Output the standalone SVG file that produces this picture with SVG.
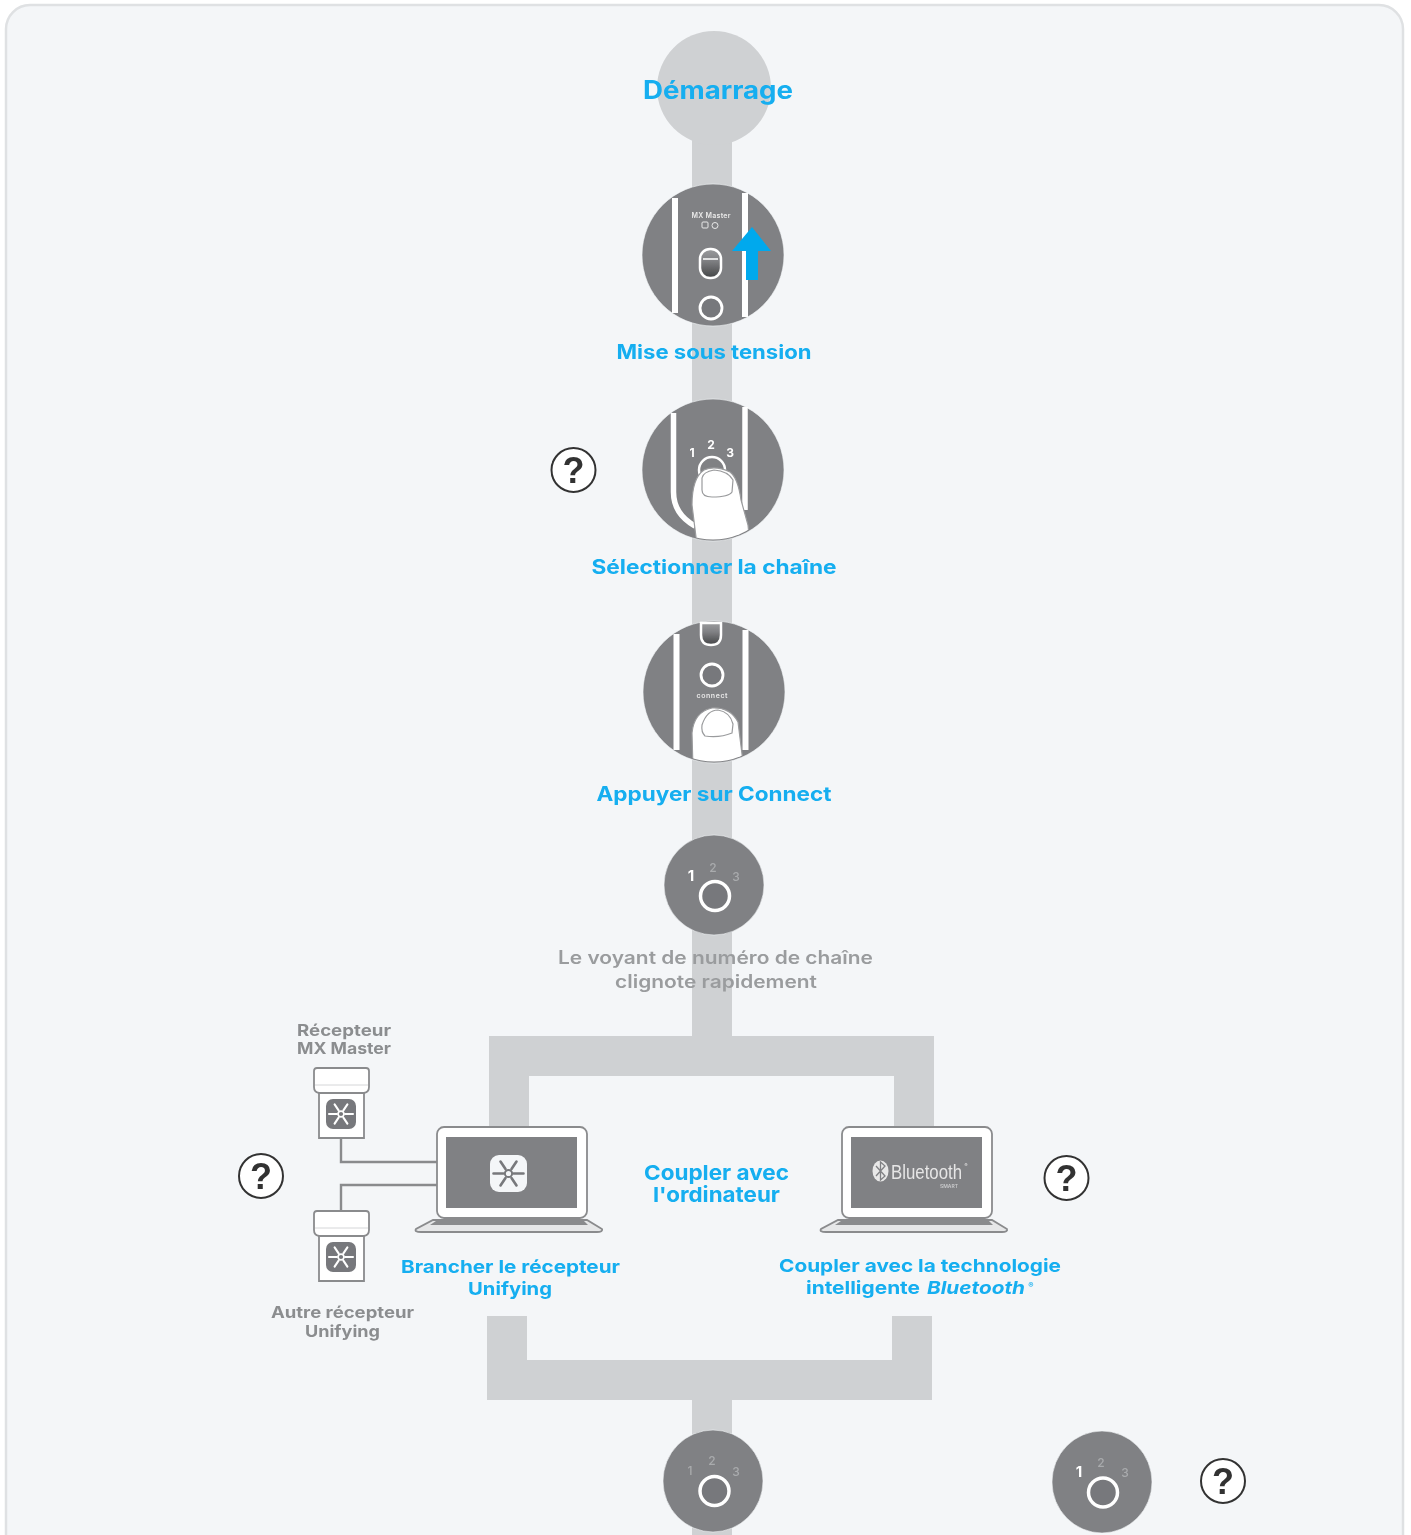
<svg xmlns="http://www.w3.org/2000/svg" xmlns:xlink="http://www.w3.org/1999/xlink" width="1411" height="1535" viewBox="0 0 1411 1535">
<style>
text{font-family:"Inter","Open Sans","Liberation Sans",sans-serif;text-anchor:middle}
.b{fill:#12aef0;font-weight:700}
.t{font-size:20px}
.g{fill:#9a9c9e;font-weight:600;font-size:18px}
.r{fill:#8b8d8f;font-weight:700;font-size:16px}
.bar{fill:#cfd1d3}
.disc{fill:#808184;stroke:#f4f6f8;stroke-width:.6}
.w{fill:none;stroke:#fff;stroke-linecap:butt}
.q{fill:#fff;stroke:#333;stroke-width:2}
.qt{font-size:36px;font-weight:700;fill:#333;font-family:"Liberation Sans",sans-serif}
.n{font-size:12px;font-weight:500;fill:#a9abad}
.n1{font-size:15px;font-weight:700;fill:#fff}
.nw{font-size:12px;font-weight:700;fill:#fff}
.mini{font-size:7px;font-weight:600;fill:#e8e8e8}
.wire{fill:none;stroke:#8a8b8d;stroke-width:2.4}
.body{fill:#fff;stroke:#8a8b8d;stroke-width:1.8}
.scr{fill:#808184}
.fin{fill:#fff;stroke:#9a9b9d;stroke-width:1.2}
</style>
<defs>
<filter id="soft" filterUnits="userSpaceOnUse" x="0" y="0" width="1411" height="1535"><feGaussianBlur stdDeviation="0.7"/></filter>
<clipPath id="c2"><circle cx="713" cy="470" r="69.500"/></clipPath>
<clipPath id="c3"><circle cx="714" cy="692" r="69.500"/></clipPath>
<linearGradient id="sw" x1="0" y1="0" x2="0" y2="1"><stop offset="0" stop-color="#9a9b9d"/><stop offset=".4" stop-color="#808184"/><stop offset="1" stop-color="#444547"/></linearGradient>
<g id="flake" fill="none" stroke-width="2.600" stroke-linecap="round">
<path d="M-15 0H-5M5 0H15M-8-12L-3-4.500M8-12L3-4.500M-8 12L-3 4.500M8 12L3 4.500"/><circle r="3.600" stroke-width="2"/>
</g>
<g id="laptop">
<path d="M18 95H172L187 104Q188 107 182 107H6Q-1 107 1 104Z" fill="#e6e7e8" stroke="#8a8b8d" stroke-width="1.800"/>
<path d="M21 96H169L173 100H15Z" fill="#8a8b8d"/>
<rect x="22" y="2" width="150" height="91" rx="7" class="body"/>
<rect x="31" y="12" width="131" height="71" class="scr"/>
</g>
<g id="dongle">
<path d="M5 24H50V70H5Z" class="body"/>
<path d="M3 0H52Q55 0 55 3V19Q55 24 50 25H5Q0 24 0 19V3Q0 0 3 0Z" class="body"/>
<path d="M1 17H54" fill="none" stroke="#d5d6d8" stroke-width="1"/>
<rect x="12" y="31" width="30" height="30" rx="7" fill="#77787b"/>
<use xlink:href="#flake" transform="translate(27 46) scale(.8)" stroke="#fff"/>
</g>
<g id="qm"><circle r="22" class="q"/><text y="13" class="qt">?</text></g>
</defs>
<rect x="6" y="5" width="1397" height="1560" rx="24" fill="#f4f6f8" stroke="#dfe1e3" stroke-width="2.500"/>
<g filter="url(#soft)">
<g id="connectors">
<rect x="692" y="130" width="40" height="910" class="bar"/>
<path d="M489 1128V1036H934V1128H894V1076H529V1128Z" class="bar"/>
<path d="M487 1316V1400H932V1316H892V1360H527V1316Z" class="bar"/>
<rect x="692" y="1400" width="40" height="135" class="bar"/>
<path d="M341 1138V1162H437" class="wire"/>
<path d="M341 1211V1185H437" class="wire"/>
</g>
<g id="start">
<ellipse cx="714" cy="88" rx="57" ry="57" fill="#cfd1d3"/>
<text x="718" y="99" class="b" font-size="25" textLength="150" lengthAdjust="spacingAndGlyphs">Démarrage</text>
</g>
<g id="power">
<circle cx="713" cy="255" r="71" class="disc"/>
<path d="M675 198V313M745 193V317" class="w" stroke-width="6"/>
<text x="711" y="218" class="mini" textLength="39">MX Master</text>
<rect x="702" y="222" width="6" height="6" rx="1" fill="none" stroke="#e8e8e8"/><circle cx="715" cy="225.500" r="3" fill="none" stroke="#e8e8e8"/>
<rect x="700" y="249" width="21" height="29" rx="10" fill="url(#sw)" stroke="#fff" stroke-width="2.500"/>
<path d="M703 259H718" stroke="#fff" stroke-width="1.500" fill="none"/>
<circle cx="711" cy="308" r="11" fill="#77787b" stroke="#fff" stroke-width="2.800"/>
<path d="M752 227L771 251H758V280H746V251H732Z" fill="#00a9ed"/>
<text x="714" y="359" class="b t" textLength="195" lengthAdjust="spacingAndGlyphs">Mise sous tension</text>
</g>
<g id="channel">
<circle cx="713" cy="470" r="71" class="disc"/>
<path d="M673.500 413V492Q673.500 514 695 526" class="w" stroke-width="5.500"/>
<path d="M745 407V510" class="w" stroke-width="5.500"/>
<text x="692" y="457" class="nw">1</text>
<text x="711" y="449" class="nw">2</text>
<text x="730" y="457" class="nw">3</text>
<circle cx="712" cy="470" r="13" fill="none" stroke="#fff" stroke-width="2.500"/>
<path clip-path="url(#c2)" d="M697 545L692 505Q692 478 704 470Q715 465 730 472Q738 478 741 500L748 525L750 545Z" class="fin"/>
<path d="M702 478Q703 472 714 470Q728 471 733 480L732 492Q729 497 712 497Q702 497 702 490Z" class="fin"/>
<text x="714" y="574" class="b t" textLength="245" lengthAdjust="spacingAndGlyphs">Sélectionner la chaîne</text>
</g>
<g id="connect">
<circle cx="714" cy="692" r="71" class="disc"/>
<path d="M676.500 634V750M745.500 630V750" class="w" stroke-width="6"/>
<path d="M701 623V635Q701 645 711 645Q721 645 721 635V623Z" fill="url(#sw)" stroke="#fff" stroke-width="2.500"/>
<g clip-path="url(#c3)">
<path d="M693 770L692 733Q694 712 712 708Q730 707 738 722L744 770Z" class="fin"/>
<path d="M702 725Q707 710 718 710Q730 712 733 724L732 733Q720 738 705 736Q701 732 702 725Z" class="fin"/>
</g>
<circle cx="712" cy="675" r="11" fill="#77787b" stroke="#fff" stroke-width="2.800"/>
<text x="712" y="698" class="mini" textLength="31">connect</text>
<text x="714" y="801" class="b t" textLength="235" lengthAdjust="spacingAndGlyphs">Appuyer sur Connect</text>
</g>
<g id="blink">
<circle cx="714" cy="885" r="50" class="disc"/>
<text x="691" y="881" class="n1">1</text>
<text x="713" y="872" class="n">2</text>
<text x="736" y="881" class="n">3</text>
<circle cx="715" cy="896" r="14.500" fill="#77787b" stroke="#fff" stroke-width="3.500"/>
<text x="715.500" y="964" class="g" textLength="315" lengthAdjust="spacingAndGlyphs">Le voyant de numéro de chaîne</text>
<text x="716" y="988" class="g" textLength="202" lengthAdjust="spacingAndGlyphs">clignote rapidement</text>
</g>
<g id="pair-label">
<text x="716.500" y="1180" class="b" font-size="20.500" textLength="145" lengthAdjust="spacingAndGlyphs">Coupler avec</text>
<text x="716.500" y="1202" class="b" font-size="20.500" textLength="127" lengthAdjust="spacingAndGlyphs">l'ordinateur</text>
</g>
<g id="receivers">
<text x="344" y="1036" class="r" textLength="94" lengthAdjust="spacingAndGlyphs">Récepteur</text>
<text x="344" y="1054" class="r" textLength="94" lengthAdjust="spacingAndGlyphs">MX Master</text>
<use xlink:href="#dongle" x="314" y="1068"/>
<use xlink:href="#dongle" x="314" y="1211"/>
<text x="342.500" y="1318" class="r" textLength="143" lengthAdjust="spacingAndGlyphs">Autre récepteur</text>
<text x="342.500" y="1337" class="r" textLength="75" lengthAdjust="spacingAndGlyphs">Unifying</text>
</g>
<g id="unifying">
<use xlink:href="#laptop" x="415" y="1125"/>
<rect x="490" y="1155" width="37" height="37" rx="9" fill="#f4f6f8"/>
<use xlink:href="#flake" transform="translate(508.500 1173.500)" stroke="#77787b"/>
<text x="510.500" y="1273" class="b" font-size="18" textLength="219" lengthAdjust="spacingAndGlyphs">Brancher le récepteur</text>
<text x="510" y="1295" class="b" font-size="18" textLength="84" lengthAdjust="spacingAndGlyphs">Unifying</text>
</g>
<g id="bluetooth">
<use xlink:href="#laptop" x="820" y="1125"/>
<ellipse cx="880.500" cy="1171" rx="8" ry="10.500" fill="#e8e8e8"/>
<path d="M876 1166L885 1176L880.500 1180V1162L885 1166L876 1176" fill="none" stroke="#808184" stroke-width="1.300"/>
<text x="926.500" y="1179" font-size="20" font-weight="400" fill="#e6e6e6" style="font-family:'Liberation Sans',sans-serif" textLength="71" lengthAdjust="spacingAndGlyphs">Bluetooth</text>
<text x="966" y="1167" font-size="4.500" fill="#e6e6e6">®</text>
<text x="949" y="1188" font-size="5" font-weight="600" fill="#c9cacc">SMART</text>
<text x="920" y="1272" class="b" font-size="18" textLength="282" lengthAdjust="spacingAndGlyphs">Coupler avec la technologie</text>
<text x="863" y="1294" class="b" font-size="18" textLength="114" lengthAdjust="spacingAndGlyphs">intelligente</text>
<text x="976" y="1294" class="b" font-size="18" font-style="italic" textLength="98" lengthAdjust="spacingAndGlyphs">Bluetooth</text>
<text x="1031" y="1288" class="b" font-size="8">®</text>
</g>
<g id="help-1"><use xlink:href="#qm" x="573.500" y="470"/></g>
<g id="help-2"><use xlink:href="#qm" x="261" y="1176"/></g>
<g id="help-3"><use xlink:href="#qm" x="1066.500" y="1178"/></g>
<g id="help-4"><use xlink:href="#qm" x="1223" y="1481"/></g>
<g id="status-a">
<ellipse cx="713" cy="1481" rx="50" ry="51" class="disc"/>
<text x="690" y="1475" class="n">1</text>
<text x="712" y="1465" class="n">2</text>
<text x="736" y="1476" class="n">3</text>
<circle cx="714.500" cy="1491" r="14.500" fill="#77787b" stroke="#fff" stroke-width="3.500"/>
</g>
<g id="status-b">
<ellipse cx="1102" cy="1482" rx="50" ry="51" class="disc"/>
<text x="1079" y="1477" class="n1">1</text>
<text x="1101" y="1467" class="n">2</text>
<text x="1125" y="1477" class="n">3</text>
<circle cx="1103" cy="1492.500" r="14.500" fill="#77787b" stroke="#fff" stroke-width="3.500"/>
</g>
</g>
</svg>
